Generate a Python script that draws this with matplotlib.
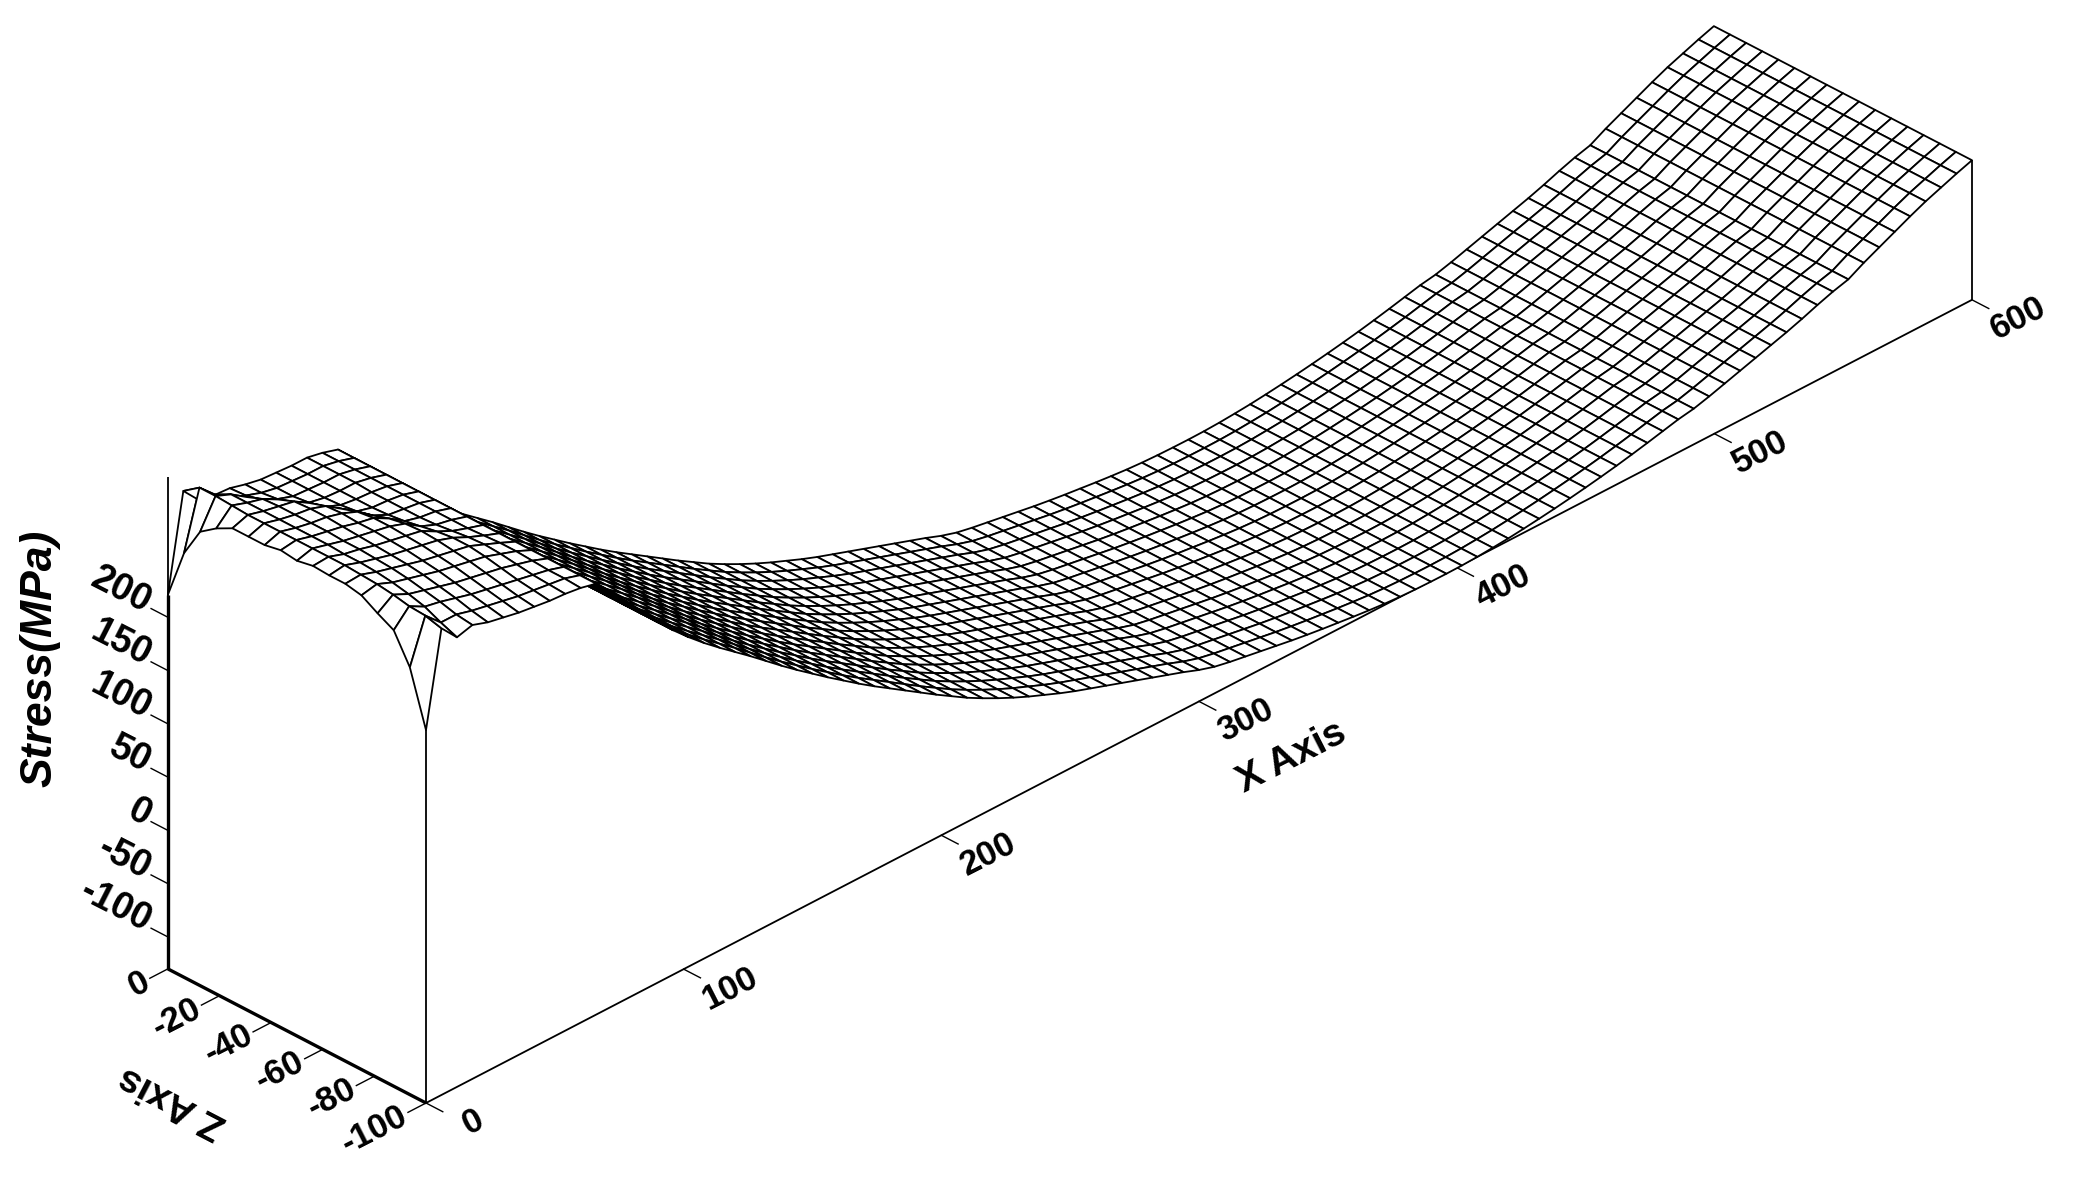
#!/usr/bin/env python3

import numpy as np
import matplotlib

matplotlib.use('Agg')
import matplotlib.pyplot as plt
from mpl_toolkits.mplot3d import proj3d

x_nodes = np.arange(0, 601, 6)
z_nodes = np.linspace(0, -100, 17)

# rows x = 0..60, columns z = 0..-100
stress_near = [
    [221, 268, 296, 307, 315, 315, 315, 318, 316, 319, 318, 318, 315, 306, 298, 271, 220],
    [311, 322, 322, 321, 320, 320, 320, 320, 320, 320, 320, 319, 318, 316, 313, 312, 308],
    [295, 308, 316, 316, 316, 316, 316, 316, 316, 315, 315, 314, 312, 309, 305, 298, 292],
    [292, 297, 306, 312, 313, 313, 313, 313, 312, 312, 311, 310, 308, 305, 302, 298, 296],
    [291, 292, 296, 304, 310, 311, 311, 310, 309, 308, 307, 306, 304, 301, 298, 294, 291],
    [287, 287, 289, 294, 301, 306, 307, 306, 306, 305, 304, 302, 300, 297, 294, 291, 288],
    [284, 284, 284, 286, 290, 296, 301, 303, 303, 302, 301, 299, 297, 294, 291, 288, 285],
    [283, 283, 283, 283, 284, 286, 290, 295, 298, 299, 298, 296, 294, 291, 288, 285, 283],
    [282, 282, 282, 282, 282, 282, 283, 285, 288, 291, 293, 293, 291, 288, 285, 283, 281],
    [282, 282, 282, 282, 281, 281, 281, 281, 282, 284, 286, 287, 286, 284, 282, 281, 280],
    [279, 279, 279, 279, 279, 279, 279, 279, 279, 279, 280, 281, 281, 280, 279, 279, 278],
]

# x = 66..600, about the same across z
stress_far = [
    274.5, 259, 242.5, 225.5, 208.5, 193, 179, 166, 154, 142.5,
    131, 119, 107, 95.5, 84.5, 73.5, 63, 52.5, 42.5, 33,
    23.5, 14, 4.5, -4.5, -13.5, -21.5, -29, -36, -42.5, -48.5,
    -54.5, -60, -65, -70, -75, -80, -85, -90, -95, -100.5,
    -105, -108, -110.5, -113, -115.5, -118, -120.2, -122.2, -124, -125.8,
    -127.4, -128.8, -129.8, -130.4, -130.7, -130.8, -130.6, -130, -129, -127.8,
    -126.2, -124.4, -122.4, -120.2, -117.8, -115.2, -112.4, -109.3, -106, -102.5,
    -99, -96.5, -92.5, -88, -83.5, -79, -74.5, -70, -65, -59.5,
    -54.5, -50.5, -42.5, -35.5, -28.5, -21.5, -15, -9.5, -4, 1,
]

stress_ticks = [200, 150, 100, 50, 0, -50, -100]
x_ticks = [0, 100, 200, 300, 400, 500, 600]
z_ticks = [0, -20, -40, -60, -80, -100]

Z_BOTTOM = -130
Z_TOP = 332
FONT = 'Liberation Sans'


def run():
    stress = np.vstack([np.array(stress_near, float),
                        np.tile(np.array(stress_far, float), (len(z_nodes), 1)).T])
    X, Z = np.meshgrid(x_nodes, z_nodes, indexing='ij')

    fig = plt.figure(figsize=(20.75, 11.79), dpi=100)
    ax = fig.add_axes([-0.1, -0.5, 1.2, 2.0], projection='3d', proj_type='ortho')
    ax.set_axis_off()
    ax.computed_zorder = False
    ax.view_init(elev=31.3, azim=-135)
    ax.set_xlim(0, 600)
    ax.set_ylim(-100, 0)
    ax.set_zlim(Z_BOTTOM, Z_TOP)
    ax.set_box_aspect((2186, 365, 576), zoom=1.0)

    def to_px(x, y, z):
        ax.apply_aspect()
        xs, ys, _ = proj3d.proj_transform(x, y, z, ax.get_proj())
        return ax.transData.transform((xs, ys))

    # fit the box on the picture: x axis spans 1546 px, front corner at (426, 1103)
    a = to_px(0, -100, Z_BOTTOM)
    b = to_px(600, -100, Z_BOTTOM)
    ax.set_box_aspect((2186, 365, 576), zoom=1546 / (b[0] - a[0]))
    a = to_px(0, -100, Z_BOTTOM)
    ax.set_position([-0.1 + (426 - a[0]) / 2075, -0.5 + (1179 - 1103 - a[1]) / 1179, 1.2, 2.0])

    def label(x, y, z, s, **kw):
        p = to_px(x, y, z)
        fig.text(p[0] / 2075, p[1] / 1179, s, family=FONT, fontweight='bold', color='black',
                 rotation_mode='anchor', va='center', **kw)

    line = dict(color='black', lw=1.3, zorder=1, solid_capstyle='butt')
    thick = dict(color='black', lw=2.4, zorder=1, solid_capstyle='butt')

    ax.plot([0, 600], [-100, -100], [Z_BOTTOM, Z_BOTTOM], **line)
    ax.plot([0, 0], [0, -100], [Z_BOTTOM, Z_BOTTOM], **thick)
    ax.plot([0, 0], [0, 0], [Z_BOTTOM, Z_TOP], **line)
    ax.plot([0, 0], [0, 0], [Z_BOTTOM, stress[0, 0]], **thick)
    ax.plot([0, 0], [-100, -100], [Z_BOTTOM, stress[0, -1]], **line)
    ax.plot([600, 600], [-100, -100], [Z_BOTTOM, stress[-1, -1]], **line)

    ax.plot_surface(X, Z, stress, rstride=1, cstride=1, color='white', edgecolor='black',
                    linewidth=1.3, shade=False, zorder=2)

    for v in stress_ticks:
        ax.plot([0, 0], [0, 6.5], [v, v], color='black', lw=1.0, zorder=1)
        label(0, 7.5, v + 3, str(v), rotation=-27, ha='right', fontsize=27)
    for v in x_ticks:
        ax.plot([v, v], [-100, -106.5], [Z_BOTTOM, Z_BOTTOM], color='black', lw=1.0, zorder=1)
        label(v + 2, -116, Z_BOTTOM, str(v), rotation=27, ha='center', fontsize=25)
    for v in z_ticks:
        ax.plot([0, -7], [v, v], [Z_BOTTOM, Z_BOTTOM], color='black', lw=1.0, zorder=1)
        label(-8, v, Z_BOTTOM, str(v), rotation=27, ha='right', fontsize=25)

    label(297, -139, Z_BOTTOM, 'X Axis', rotation=27, ha='center', fontsize=28)
    label(-48.5, -50, Z_BOTTOM, 'Z Axis', rotation=152.5, ha='center', fontsize=28)
    label(0, 49.6, 99, 'Stress(MPa)', rotation=90, ha='center', fontsize=32, fontstyle='italic')

    fig.savefig('out.png', dpi=100, facecolor='white')


if __name__ == "__main__":
    run()
